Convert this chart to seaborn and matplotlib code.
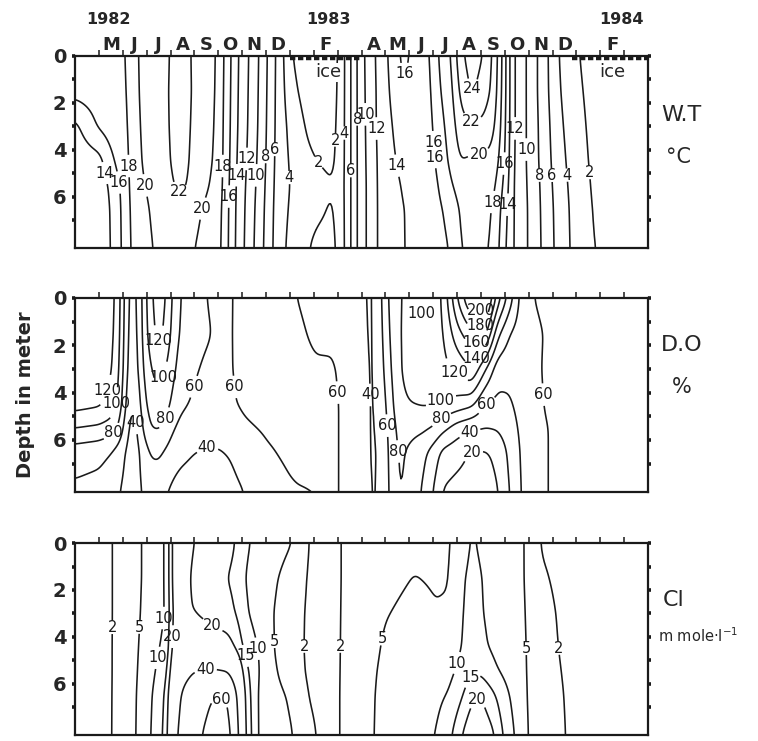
import numpy as np
import matplotlib
matplotlib.use("Agg")
import matplotlib.pyplot as plt
import seaborn as sns

# ---------------- data (months since 1 Apr 1982, depth in m) ----------------
depth_nodes = [0, 1.5, 3, 4.5, 5.5, 6.5, 8.2]

wt_t = [0.0, 1.0, 1.5, 1.95, 2.25, 2.8, 3.6, 4.45, 5.3, 5.95, 6.2, 6.8, 7.7, 8.4,
        9.07, 9.6, 10.3, 10.8, 11.3, 11.8, 12.15, 12.6, 13.1, 13.75, 14.3, 14.9,
        15.2, 15.75, 16.15, 16.6, 17.1, 17.5, 17.75, 18.05, 18.35, 18.9, 19.6,
        20.25, 21.1, 21.7, 24.0]
wt_v = [
    [17.2, 16.8, 13.5, 12.6, 12.3, 12.2, 12.2],
    [17.4, 17.1, 16.3, 13.2, 12.8, 12.6, 12.6],
    [17.6, 17.4, 17.0, 15.5, 14.4, 14.1, 14.0],
    [17.7, 17.6, 17.4, 17.0, 16.3, 16.1, 16.0],
    [18.3, 18.2, 18.1, 18.0, 18.0, 17.9, 17.8],
    [20.6, 20.5, 20.3, 20.1, 19.8, 19.5, 19.3],
    [21.3, 21.4, 21.4, 21.3, 21.1, 20.8, 20.5],
    [23.0, 23.0, 22.9, 22.8, 22.5, 21.5, 20.8],
    [20.9, 21.0, 20.9, 20.7, 20.5, 20.0, 19.6],
    [20.0, 19.9, 19.8, 19.7, 19.5, 19.2, 18.9],
    [18.2, 18.1, 18.0, 17.9, 17.8, 17.6, 17.5],
    [14.2, 14.1, 14.0, 13.8, 13.6, 13.5, 13.4],
    [10.0, 9.9, 9.8, 9.6, 9.4, 9.2, 9.0],
    [6.0, 5.9, 5.8, 5.7, 5.6, 5.5, 5.4],
    [2.0, 2.5, 3.2, 3.6, 3.8, 3.6, 3.2],
    [1.2, 1.5, 2.0, 2.4, 2.6, 2.4, 2.2],
    [0.6, 0.8, 1.2, 1.9, 2.4, 2.2, 1.6],
    [0.8, 1.0, 1.3, 1.6, 2.1, 1.8, 1.4],
    [4.0, 4.0, 4.0, 4.0, 4.0, 4.0, 4.0],
    [8.0, 8.0, 8.0, 8.0, 8.0, 8.0, 8.0],
    [10.2, 10.1, 10.0, 9.9, 9.8, 9.8, 9.8],
    [12.1, 12.0, 12.0, 11.9, 11.9, 11.9, 11.9],
    [14.0, 13.8, 13.5, 13.3, 13.1, 13.0, 13.0],
    [16.6, 15.9, 15.2, 14.6, 14.2, 14.0, 14.0],
    [15.2, 15.1, 14.9, 14.7, 14.5, 14.3, 14.2],
    [16.0, 15.8, 15.6, 15.3, 15.0, 14.8, 14.6],
    [18.0, 17.6, 17.0, 16.5, 16.0, 15.6, 15.2],
    [20.0, 19.5, 19.0, 18.5, 17.8, 16.8, 16.2],
    [23.5, 22.5, 21.2, 20.0, 19.0, 18.3, 18.0],
    [25.0, 24.3, 21.8, 19.6, 19.3, 18.6, 18.3],
    [24.0, 23.2, 21.5, 19.6, 19.0, 18.5, 18.2],
    [21.8, 21.5, 20.5, 19.3, 18.6, 18.0, 17.8],
    [19.5, 19.2, 18.8, 18.0, 17.2, 16.5, 16.0],
    [16.0, 16.0, 15.8, 15.5, 15.0, 14.5, 14.0],
    [12.2, 12.2, 12.2, 12.1, 12.0, 12.0, 12.0],
    [10.0, 10.0, 10.0, 10.0, 10.1, 10.2, 10.2],
    [7.0, 7.0, 7.2, 7.3, 7.5, 7.6, 7.7],
    [4.0, 4.2, 4.5, 4.8, 5.0, 5.2, 5.3],
    [2.0, 2.2, 2.4, 2.6, 2.8, 2.9, 3.0],
    [1.4, 1.5, 1.6, 1.7, 1.8, 1.9, 2.0],
    [1.0, 1.1, 1.2, 1.3, 1.4, 1.5, 1.6],
]
wt_levels = [2, 4, 6, 8, 10, 12, 14, 16, 18, 20, 22, 24]

do_t = [0.0, 1.0, 1.5, 1.8, 2.05, 2.35, 2.6, 2.85, 3.15, 3.5, 3.85, 4.1, 4.4, 5.0,
        5.5, 6.0, 6.6, 7.1, 8.0, 9.0, 9.3, 10.1, 10.8, 11.4, 12.0, 12.4, 12.65,
        12.9, 13.2, 13.6, 14.1, 14.55, 15.0, 15.4, 16.0, 16.6, 17.2, 17.7, 18.2,
        18.7, 19.2, 19.8, 21.0, 24.0]
do_v = [
    [135, 135, 133, 128, 100, 70, 55],
    [134, 133, 130, 124, 96, 66, 52],
    [128, 126, 123, 114, 90, 60, 48],
    [112, 110, 106, 98, 80, 52, 42],
    [80, 78, 75, 68, 56, 42, 36],
    [50, 48, 45, 38, 32, 30, 30],
    [60, 58, 55, 45, 38, 34, 34],
    [85, 84, 80, 72, 62, 48, 42],
    [115, 110, 98, 88, 80, 62, 48],
    [132, 128, 110, 92, 82, 64, 46],
    [118, 112, 98, 86, 74, 56, 40],
    [96, 92, 85, 74, 62, 48, 36],
    [80, 78, 72, 64, 55, 44, 34],
    [68, 67, 62, 57, 50, 40, 33],
    [60, 62, 57, 53, 47, 38, 32],
    [56, 57, 56, 55, 50, 38, 32],
    [60, 60, 60, 59, 54, 42, 36],
    [63, 63, 63, 62, 58, 48, 40],
    [66, 66, 66, 65, 62, 58, 52],
    [62, 64, 66, 66, 65, 63, 58],
    [60, 63, 65, 66, 66, 64, 59],
    [54, 57, 62, 64, 65, 64, 60],
    [50, 58, 61, 62, 62, 62, 62],
    [46, 52, 56, 57, 57, 57, 57],
    [42, 43, 45, 47, 48, 50, 50],
    [38, 38, 38, 38, 38, 38, 39],
    [45, 44, 43, 42, 41, 40, 40],
    [65, 62, 58, 52, 48, 45, 44],
    [85, 82, 78, 72, 68, 66, 64],
    [100, 100, 99, 96, 88, 84, 82],
    [103, 106, 108, 100, 86, 75, 72],
    [94, 104, 110, 102, 84, 66, 58],
    [108, 112, 113, 102, 78, 52, 40],
    [122, 118, 114, 98, 66, 35, 18],
    [180, 152, 125, 92, 50, 28, 12],
    [225, 175, 140, 85, 42, 18, 10],
    [215, 165, 100, 58, 40, 18, 12],
    [150, 105, 68, 55, 42, 25, 18],
    [110, 80, 65, 58, 52, 45, 40],
    [72, 70, 68, 66, 64, 63, 62],
    [60, 64, 64, 65, 66, 66, 66],
    [55, 58, 57, 58, 60, 60, 60],
    [52, 52, 52, 52, 52, 52, 52],
    [50, 50, 50, 50, 50, 50, 50],
]
do_levels = [20, 40, 60, 80, 100, 120, 140, 160, 180, 200]

cl_t = [0.0, 1.4, 2.4, 3.3, 3.85, 4.1, 4.5, 5.0, 5.8, 6.4, 6.75, 7.1, 7.8, 8.3,
        9.1, 9.7, 10.5, 11.0, 11.6, 12.5, 13.0, 14.2, 15.1, 15.7, 16.2, 16.6,
        17.0, 17.5, 18.0, 18.4, 18.9, 19.5, 20.2, 21.0, 24.0]
cl_v = [
    [1.4, 1.4, 1.4, 1.4, 1.4, 1.4, 1.4],
    [1.7, 1.7, 1.7, 1.7, 1.7, 1.7, 1.7],
    [3.5, 3.5, 3.5, 3.6, 3.6, 3.7, 3.8],
    [7.0, 7.0, 7.5, 8.5, 9.5, 10.5, 11.0],
    [10.5, 10.5, 10.2, 12, 14, 16, 17],
    [23, 23, 22, 22, 25, 30, 34],
    [22, 22, 21, 25, 34, 42, 46],
    [20, 19, 20, 28, 40, 52, 56],
    [17, 16, 17, 25, 42, 60, 66],
    [16, 15, 16, 23, 40, 60, 66],
    [15, 14, 15, 19, 30, 42, 48],
    [11, 10, 11, 14, 17, 19, 20],
    [8, 7, 7, 9, 9, 8, 8],
    [6.5, 5.5, 5, 5, 5.5, 6, 6],
    [5, 3.5, 3, 2.8, 3.2, 4.5, 5.2],
    [2.0, 1.9, 1.8, 1.8, 1.8, 2.0, 2.4],
    [1.6, 1.6, 1.6, 1.6, 1.6, 1.6, 1.6],
    [1.8, 1.8, 1.8, 1.8, 1.8, 1.8, 1.8],
    [2.6, 2.6, 2.7, 2.8, 2.9, 3.0, 3.0],
    [3.5, 3.5, 3.8, 4.2, 4.6, 4.8, 4.9],
    [3.6, 4.0, 4.8, 5.6, 6.0, 6.2, 6.3],
    [4.2, 5.1, 6.0, 7.0, 7.5, 8.0, 8.5],
    [4.4, 4.7, 5.2, 6.5, 7.5, 8.8, 10],
    [4.7, 4.9, 5.3, 7.5, 9, 10.5, 14],
    [8, 9.5, 10, 10.2, 11.5, 14.5, 20],
    [10.5, 11, 11, 11.5, 14.5, 19, 24],
    [9.5, 10.2, 10.3, 10.8, 14, 20, 24],
    [8, 8.5, 9, 9.5, 11, 16, 21],
    [7, 7, 7.5, 8, 9, 11.5, 14],
    [6, 6, 6.2, 6.5, 7, 8.5, 10],
    [4.8, 4.8, 4.9, 5, 5, 5, 5.2],
    [1.8, 2.3, 2.8, 3.0, 3.1, 3.1, 3.1],
    [1.6, 1.7, 1.9, 2.0, 2.1, 2.2, 2.3],
    [1.6, 1.6, 1.6, 1.6, 1.6, 1.6, 1.6],
    [1.5, 1.5, 1.5, 1.5, 1.5, 1.5, 1.5],
]
cl_levels = [2, 5, 10, 15, 20, 40, 60]

month_letters = ['', 'M', 'J', 'J', 'A', 'S', 'O', 'N', 'D', '', 'F', '',
                 'A', 'M', 'J', 'J', 'A', 'S', 'O', 'N', 'D', '', 'F', '']
years = ['1982', '1983', '1984']
year_month = [1.4, 10.6, 22.9]
ice_periods = [(9.0, 12.0), (20.8, 24.0)]

panel_names = [('W.T', '°C'), ('D.O', '%'), ('Cl', 'm mole·l$^{-1}$')]

# where the contour labels sit (layout)
wt_label_at = [(1.25, 5.0), (1.85, 5.4), (2.3, 4.7), (3.1, 5.5), (4.1, 6.2),
               (5.3, 6.5), (6.15, 4.7), (6.45, 6.0), (6.95, 5.1), (7.2, 4.4),
               (7.6, 5.1), (7.95, 4.3), (8.45, 4.0), (8.8, 5.2), (10.1, 4.6),
               (11.05, 3.6), (11.4, 3.3), (11.65, 4.9), (11.8, 2.7), (12.3, 2.5),
               (12.85, 3.1), (13.4, 4.7), (13.9, 1.0), (14.8, 3.7), (15.3, 4.3),
               (16.6, 1.5), (16.6, 2.8), (16.9, 4.1), (17.3, 6.2), (18.05, 4.6),
               (18.2, 6.35), (18.5, 3.1), (18.95, 4.0), (19.3, 5.1), (19.95, 5.1),
               (20.45, 5.1), (21.3, 5.0)]
do_label_at = [(1.3, 3.9), (1.75, 4.45), (1.6, 5.7), (2.45, 5.3), (3.55, 2.1),
               (3.55, 3.3), (3.6, 5.0), (4.8, 3.7), (6.8, 3.75), (5.5, 6.1),
               (11.0, 4.0), (12.4, 4.1), (13.0, 5.4), (13.4, 6.5), (14.6, 1.25),
               (17.0, 0.5), (17.0, 1.2), (16.8, 1.85), (16.65, 2.45), (16.1, 2.9),
               (15.2, 4.1), (15.25, 5.0), (17.2, 4.5), (16.45, 5.5), (16.6, 6.5),
               (19.4, 4.1)]
cl_label_at = [(1.9, 3.6), (2.87, 3.6), (3.7, 3.2), (4.35, 4.0), (5.7, 3.6),
               (3.45, 4.9), (5.4, 4.9), (6.1, 6.9), (7.2, 4.8), (7.7, 4.5),
               (8.25, 4.2), (9.6, 4.4), (11.2, 4.4), (12.9, 4.1), (16.1, 5.15),
               (16.45, 5.65), (16.8, 6.4), (18.8, 4.5), (20.1, 4.5)]

# ---------------- helpers ----------------
tt = np.linspace(0, 24, 481)
dd = np.linspace(0, 8.2, 165)


def blur(F, s_d, s_t):
    out = F
    for axis, s in ((0, s_d), (1, s_t)):
        r = int(3 * s) + 1
        k = np.exp(-0.5 * (np.arange(-r, r + 1) / s) ** 2)
        k /= k.sum()
        pad = [(0, 0), (0, 0)]
        pad[axis] = (r, r)
        P = np.pad(out, pad, mode='edge')
        out = np.apply_along_axis(lambda v: np.convolve(v, k, mode='valid'), axis, P)
    return out


def field(t_nodes, table):
    tab = np.asarray(table, float)
    A = np.array([np.interp(dd, depth_nodes, row) for row in tab])
    F = np.array([np.interp(tt, t_nodes, A[:, j]) for j in range(len(dd))])
    return blur(F, 5.0, 2.4)


# ---------------- figure ----------------
sns.set_theme(style='white')
plt.rcParams['font.family'] = ['DejaVu Sans']

fig = plt.figure(figsize=(7.58, 7.41), dpi=100)
rects = [[0.099, 0.665, 0.756, 0.260],
         [0.099, 0.336, 0.756, 0.262],
         [0.099, 0.008, 0.756, 0.259]]
datasets = [(wt_t, wt_v, wt_levels, wt_label_at),
            (do_t, do_v, do_levels, do_label_at),
            (cl_t, cl_v, cl_levels, cl_label_at)]
name_pos = [(0.872, 0.845, 0.878, 0.788), (0.872, 0.535, 0.886, 0.478),
            (0.874, 0.190, 0.868, 0.142)]

for i, (rect, (t_nodes, table, levels, lab_at)) in enumerate(zip(rects, datasets)):
    ax = fig.add_axes(rect)
    ax.set_xlim(0, 24)
    ax.set_ylim(8.2, 0)
    F = field(t_nodes, table)
    cs = ax.contour(tt, dd, F, levels=levels, colors='k', linewidths=1.15)
    ax.clabel(cs, fmt=lambda v: f'{v:g}', fontsize=10.5, inline=True,
              inline_spacing=2, manual=lab_at)
    for t in cs.labelTexts:
        t.set_rotation(0)
    for sp in ax.spines.values():
        sp.set_color('k')
        sp.set_linewidth(1.6)
    # depth ticks
    ax.set_yticks([0, 2, 4, 6])
    ax.set_yticks([1, 3, 5, 7], minor=True)
    ax.yaxis.set_ticks_position('both')
    ax.tick_params(axis='y', which='both', direction='out', length=2.2, width=2.6,
                   color='k', left=True, right=True, pad=4)
    ax.tick_params(axis='y', which='major', labelsize=14, labelleft=True,
                   labelright=False)
    for lab in ax.get_yticklabels():
        lab.set_fontweight('bold')
    # month ticks on top edge
    ax.set_xticks(np.arange(0.5, 24, 1.0))
    ax.set_xticks(np.arange(1, 24, 1.0), minor=True)
    ax.xaxis.set_ticks_position('top')
    ax.tick_params(axis='x', which='minor', direction='out', length=4, width=1.1,
                   color='k', top=True, bottom=False)
    ax.tick_params(axis='x', which='major', length=0, top=True, bottom=False, pad=1)
    if i == 0:
        ax.set_xticklabels(month_letters, fontsize=13, fontweight='bold')
        for y, xm in zip(years, year_month):
            ax.text(xm, -1.55, y, ha='center', va='center', fontsize=11.5,
                    fontweight='bold', clip_on=False)
        for a, b in ice_periods:
            ax.hlines(0.1, a, b, colors='k', linewidth=3.2,
                      linestyles=[(0, (1.2, 0.6))])
            ax.text((a + b) / 2 + 0.1, 0.72, 'ice', ha='center', va='center',
                    fontsize=13, bbox=dict(facecolor='white', edgecolor='none', pad=0.5))
    else:
        ax.set_xticklabels([])
    ax.grid(False)
    n1, n2 = panel_names[i]
    fig.text(name_pos[i][0], name_pos[i][1], n1, fontsize=16, ha='left', va='center')
    fig.text(name_pos[i][2], name_pos[i][3], n2,
             fontsize=15 if i < 2 else 10.5, ha='left', va='center')

fig.text(0.033, 0.467, 'Depth in meter', rotation=90, ha='center', va='center',
         fontsize=14, fontweight='bold')

fig.savefig('out.png', dpi=100, facecolor='white')
